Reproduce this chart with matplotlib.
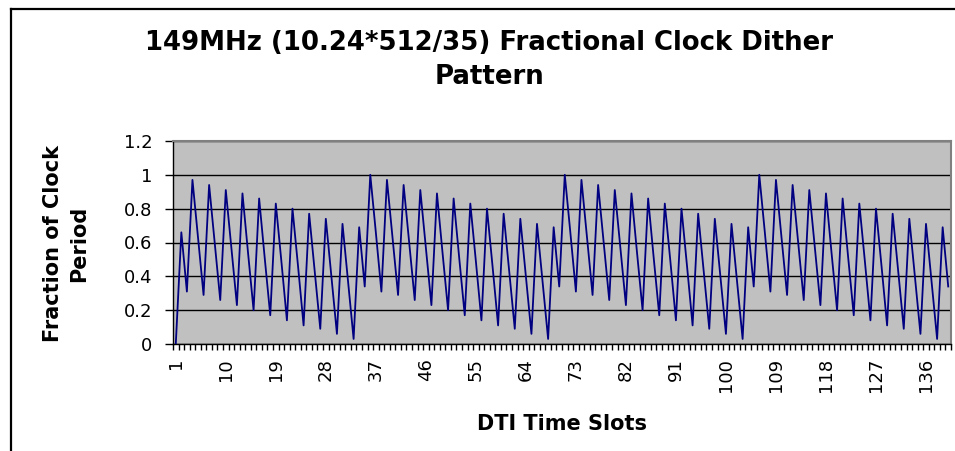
"""
149MHz fractional clock dither pattern, redrawn from the Excel chart.
"""
import matplotlib

matplotlib.use("Agg")
import matplotlib.pyplot as plt
from matplotlib.lines import Line2D


TITLE_LINES = ["149MHz (10.24*512/35) Fractional Clock Dither", "Pattern"]
X_LABEL = "DTI Time Slots"
Y_LABEL = "Fraction of Clock\nPeriod"

# one value per DTI time slot (slots 1..140)
fraction = [
    0.00, 0.66, 0.31, 0.97, 0.63, 0.29, 0.94, 0.60, 0.26, 0.91, 0.57, 0.23,
    0.89, 0.54, 0.20, 0.86, 0.51, 0.17, 0.83, 0.49, 0.14, 0.80, 0.46, 0.11,
    0.77, 0.43, 0.09, 0.74, 0.40, 0.06, 0.71, 0.37, 0.03, 0.69, 0.34,
    1.00, 0.66, 0.31, 0.97, 0.63, 0.29, 0.94, 0.60, 0.26, 0.91, 0.57, 0.23,
    0.89, 0.54, 0.20, 0.86, 0.51, 0.17, 0.83, 0.49, 0.14, 0.80, 0.46, 0.11,
    0.77, 0.43, 0.09, 0.74, 0.40, 0.06, 0.71, 0.37, 0.03, 0.69, 0.34,
    1.00, 0.66, 0.31, 0.97, 0.63, 0.29, 0.94, 0.60, 0.26, 0.91, 0.57, 0.23,
    0.89, 0.54, 0.20, 0.86, 0.51, 0.17, 0.83, 0.49, 0.14, 0.80, 0.46, 0.11,
    0.77, 0.43, 0.09, 0.74, 0.40, 0.06, 0.71, 0.37, 0.03, 0.69, 0.34,
    1.00, 0.66, 0.31, 0.97, 0.63, 0.29, 0.94, 0.60, 0.26, 0.91, 0.57, 0.23,
    0.89, 0.54, 0.20, 0.86, 0.51, 0.17, 0.83, 0.49, 0.14, 0.80, 0.46, 0.11,
    0.77, 0.43, 0.09, 0.74, 0.40, 0.06, 0.71, 0.37, 0.03, 0.69, 0.34,
]
slots = list(range(1, len(fraction) + 1))

x_tick_labels = ["1", "10", "19", "28", "37", "46", "55", "64",
                 "73", "82", "91", "100", "109", "118", "127", "136"]
y_ticks = [0, 0.2, 0.4, 0.6, 0.8, 1.0, 1.2]
y_tick_labels = ["0", "0.2", "0.4", "0.6", "0.8", "1", "1.2"]

W, H = 955, 451


def main() -> None:
    fig = plt.figure(figsize=(W / 100, H / 100), dpi=100)
    fig.patch.set_facecolor("white")

    # chart area border: only the top and left edges fall inside the picture
    left, top = 10.5 / W, 1 - 8.5 / H
    fig.lines.append(Line2D([left, 1.0], [top, top], transform=fig.transFigure,
                            color="black", linewidth=1.6))
    fig.lines.append(Line2D([left, left], [0.0, top], transform=fig.transFigure,
                            color="black", linewidth=1.6,
                            solid_capstyle="projecting"))

    ax = fig.add_axes([173 / W, 1 - 344 / H, (951 - 173) / W, (344 - 141) / H])
    ax.set_facecolor("#C0C0C0")

    ax.plot(slots, fraction, color="#000080", linewidth=1.3, zorder=3)

    ax.set_xlim(0.5, len(slots) + 0.5)
    ax.set_ylim(0, 1.2)

    ax.set_yticks(y_ticks)
    ax.set_yticklabels(y_tick_labels, fontsize=13)
    ax.tick_params(axis="y", length=6, width=1, pad=9, color="black")
    ax.grid(axis="y", color="black", linewidth=1)
    ax.set_axisbelow(True)

    major_pos = [int(t) for t in x_tick_labels]
    ax.set_xticks(major_pos)
    ax.set_xticklabels(x_tick_labels, rotation=90, fontsize=13, va="top")
    ax.set_xticks([s - 0.5 for s in slots] + [len(slots) + 0.5], minor=True)
    ax.tick_params(axis="x", which="major", length=0, pad=10)
    ax.tick_params(axis="x", which="minor", length=4.5, width=1, color="black")

    for side in ("top", "right"):
        ax.spines[side].set_color("#808080")
        ax.spines[side].set_linewidth(1.5)
    for side in ("left", "bottom"):
        ax.spines[side].set_color("black")
        ax.spines[side].set_linewidth(1)

    fig.text(489 / W, 1 - 49.5 / H, TITLE_LINES[0], ha="center", va="baseline",
             fontsize=18.7, fontweight="bold")
    fig.text(489 / W, 1 - 84.5 / H, TITLE_LINES[1], ha="center", va="baseline",
             fontsize=18.7, fontweight="bold")
    fig.text(562 / W, 1 - 429.5 / H, X_LABEL, ha="center", va="baseline",
             fontsize=15, fontweight="bold")
    fig.text(66 / W, 1 - 243.5 / H, Y_LABEL, ha="center", va="center",
             rotation=90, multialignment="center", linespacing=1.4,
             fontsize=15, fontweight="bold")

    fig.savefig("out.png", dpi=100)
    plt.close(fig)


if __name__ == "__main__":
    main()
